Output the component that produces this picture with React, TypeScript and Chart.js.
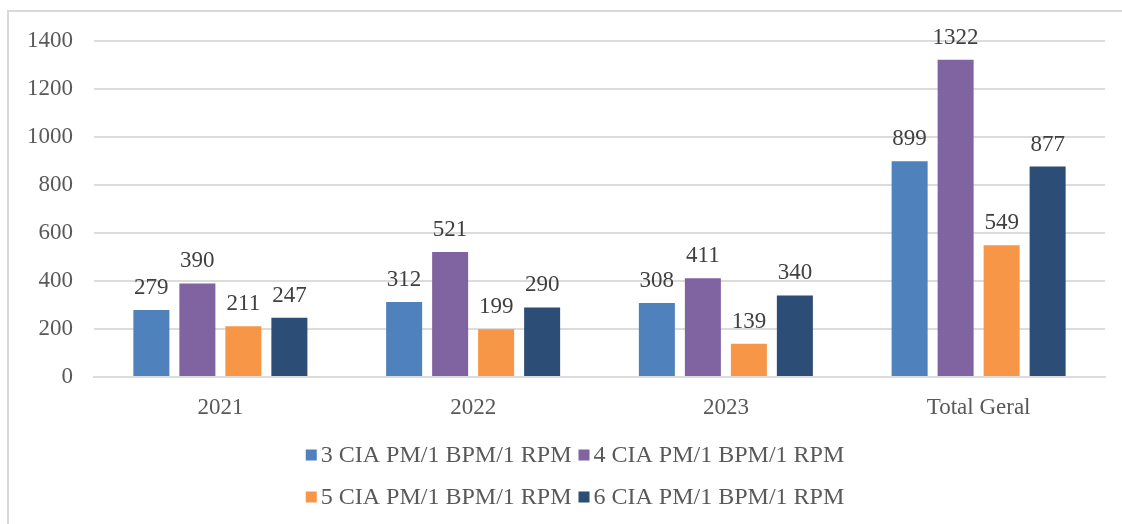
import React, { useEffect, useRef } from "react";
import { Chart, registerables } from "chart.js";

Chart.register(...registerables);

const categories = ["2021", "2022", "2023", "Total Geral"];
const seriesNames = [
  "3 CIA PM/1 BPM/1 RPM",
  "4 CIA PM/1 BPM/1 RPM",
  "5 CIA PM/1 BPM/1 RPM",
  "6 CIA PM/1 BPM/1 RPM",
];
const cia3 = [279, 312, 308, 899];
const cia4 = [390, 521, 411, 1322];
const cia5 = [211, 199, 139, 549];
const cia6 = [247, 290, 340, 877];
const seriesColors = ["#4F81BD", "#8064A2", "#F79646", "#2C4D75"];
const yTicks = [0, 200, 400, 600, 800, 1000, 1200, 1400];

const FONT = "'Liberation Serif', 'Times New Roman', serif";
const TEXT = "#595959";
const LABEL = "#404040";
const GRID = "#DCDCDC";

const dataLabelPlugin = {
  id: "dataLabels",
  afterDatasetsDraw(chart: any) {
    const ctx = chart.ctx;
    ctx.save();
    ctx.font = `23px ${FONT}`;
    ctx.fillStyle = LABEL;
    ctx.textAlign = "center";
    ctx.textBaseline = "alphabetic";
    chart.data.datasets.forEach((ds: any, i: number) => {
      const meta = chart.getDatasetMeta(i);
      meta.data.forEach((bar: any, j: number) => {
        ctx.fillText(String(ds.data[j]), bar.x, bar.y - 16);
      });
    });
    ctx.restore();
  },
};

const legendPlugin = {
  id: "customLegend",
  afterDraw(chart: any) {
    const ctx = chart.ctx;
    ctx.save();
    ctx.font = `24px ${FONT}`;
    ctx.textBaseline = "middle";
    ctx.textAlign = "left";
    const rows = [
      [0, 1],
      [2, 3],
    ];
    const rowY = [442, 484];
    const box = 11;
    const gapBoxText = 4;
    const gapItems = 7;
    const centerX = 565;
    rows.forEach((row, r) => {
      const widths = row.map(
        (i) => box + gapBoxText + ctx.measureText(chart.data.datasets[i].label).width
      );
      const total = widths.reduce((a, b) => a + b, 0) + gapItems * (row.length - 1);
      let x = centerX - total / 2;
      row.forEach((i, k) => {
        const ds = chart.data.datasets[i];
        ctx.fillStyle = ds.backgroundColor;
        ctx.fillRect(x, rowY[r] - box / 2, box, box);
        ctx.fillStyle = TEXT;
        ctx.fillText(ds.label, x + box + gapBoxText, rowY[r] + 1);
        x += widths[k] + gapItems;
      });
    });
    ctx.restore();
  },
};

export default function App() {
  const ref = useRef<HTMLCanvasElement>(null);
  useEffect(() => {
    if (!ref.current) return;
    const values = [cia3, cia4, cia5, cia6];
    const chart = new Chart(ref.current, {
      type: "bar",
      data: {
        labels: categories,
        datasets: seriesNames.map((name, i) => ({
          label: name,
          data: values[i],
          backgroundColor: seriesColors[i],
          borderWidth: 0,
          categoryPercentage: 0.728,
          barPercentage: 0.783,
        })),
      },
      options: {
        responsive: false,
        animation: false,
        layout: { padding: { top: 28, right: 17, bottom: 103, left: 0 } },
        plugins: {
          legend: { display: false },
          tooltip: { enabled: false },
        },
        scales: {
          x: {
            grid: { display: false, drawTicks: false },
            border: { display: true, color: GRID, width: 2, z: -1 },
            afterFit: (scale: any) => {
              scale.height = 44;
              scale.paddingLeft = 0;
              scale.paddingRight = 0;
            },
            ticks: {
              font: { family: FONT, size: 23 },
              color: TEXT,
              padding: 17,
            },
          },
          y: {
            min: 0,
            max: 1400,
            afterBuildTicks: (scale: any) => {
              scale.ticks = yTicks.map((v) => ({ value: v }));
            },
            afterFit: (scale: any) => {
              scale.width = 84;
              scale.paddingTop = 0;
              scale.paddingBottom = 0;
            },
            grid: { color: GRID, lineWidth: 2, drawTicks: false },
            border: { display: false },
            ticks: {
              font: { family: FONT, size: 23 },
              color: TEXT,
              padding: 21,
              callback: (v: any) => String(v),
            },
          },
        },
      },
      plugins: [dataLabelPlugin, legendPlugin],
    });
    return () => chart.destroy();
  }, []);

  return (
    <>
      <div
        style={{
          position: "fixed",
          left: 7,
          top: 10,
          width: 1115,
          height: 514,
          borderLeft: "2px solid #D9D9D9",
          borderTop: "2px solid #D9D9D9",
          boxSizing: "border-box",
        }}
      />
      <canvas
        ref={ref}
        width={1112}
        height={511}
        style={{ position: "fixed", left: 10, top: 13, width: 1112, height: 511 }}
      />
    </>
  );
}
